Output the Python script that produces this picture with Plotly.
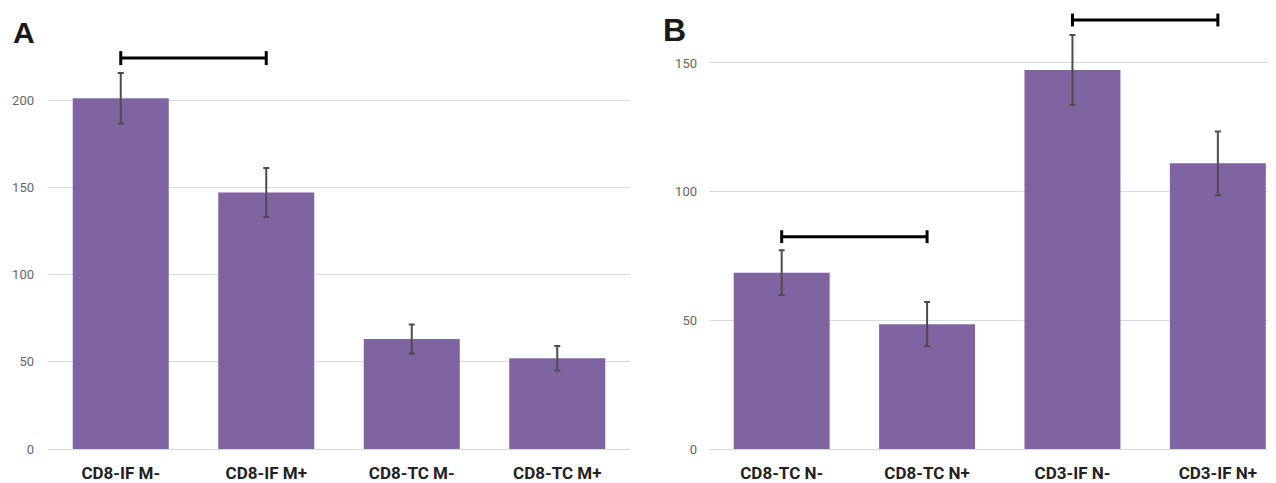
import plotly.graph_objects as go

# Panel A data
cats_a = ["CD8-IF M-", "CD8-IF M+", "CD8-TC M-", "CD8-TC M+"]
vals_a = [201, 147, 63, 52]
errs_a = [14.5, 14, 8.3, 7]

# Panel B data
cats_b = ["CD8-TC N-", "CD8-TC N+", "CD3-IF N-", "CD3-IF N+"]
vals_b = [68.5, 48.5, 147.3, 111]
errs_b = [8.7, 8.6, 13.6, 12.4]

# significance brackets: (from category, to category, y level)
brackets_a = [("CD8-IF M-", "CD8-IF M+", 224)]
brackets_b = [("CD8-TC N-", "CD8-TC N+", 82.5), ("CD3-IF N-", "CD3-IF N+", 166.7)]

yticks_a = [0, 50, 100, 150, 200]
yticks_b = [0, 50, 100, 150]

BAR = "#8064A2"
ERR = "#4d4d4d"
GRID = "#d9d9d9"

fig = go.Figure()

fig.add_trace(go.Bar(x=cats_a, y=vals_a, width=0.66, marker=dict(color=BAR, line=dict(width=0)),
                     error_y=dict(type="data", array=errs_a, color=ERR, thickness=2, width=3),
                     xaxis="x", yaxis="y", showlegend=False))
fig.add_trace(go.Bar(x=cats_b, y=vals_b, width=0.66, marker=dict(color=BAR, line=dict(width=0)),
                     error_y=dict(type="data", array=errs_b, color=ERR, thickness=2, width=3),
                     xaxis="x2", yaxis="y2", showlegend=False))


def bracket_trace(c1, c2, yv, cap, xa, ya):
    return go.Scatter(x=[c1, c1, None, c1, c2, None, c2, c2],
                      y=[yv - cap, yv + cap, None, yv, yv, None, yv - cap, yv + cap],
                      mode="lines", line=dict(color="black", width=3),
                      xaxis=xa, yaxis=ya, showlegend=False, hoverinfo="skip")


for c1, c2, yv in brackets_a:
    fig.add_trace(bracket_trace(c1, c2, yv, 4.0, "x", "y"))
for c1, c2, yv in brackets_b:
    fig.add_trace(bracket_trace(c1, c2, yv, 2.5, "x2", "y2"))

# page body has an 8px margin: offset all pixel positions by -8
OFF = 8
W, H = 1276, 483
T, B = 2, 42
PH = H - T - B


def px(x):
    return (x - OFF) / W


def py(y):
    return (H - B - (y - OFF)) / PH


tickfont = dict(family="Roboto", size=13, color="#666666")
xfont = dict(family="Roboto", size=17, color="#222222", weight="bold")

fig.update_layout(
    width=W, height=H,
    margin=dict(l=0, r=0, t=T, b=B),
    paper_bgcolor="white", plot_bgcolor="white",
    xaxis=dict(domain=[px(48), px(630)], type="category", categoryorder="array", categoryarray=cats_a,
               range=[-0.5, 3.5], showgrid=False, showline=False, ticks="", tickfont=xfont,
               ticklabelstandoff=12, fixedrange=True),
    yaxis=dict(domain=[0, 1], range=[0, PH / 87.25 * 50], tickvals=yticks_a, showgrid=True,
               gridcolor=GRID, gridwidth=1, zeroline=True, zerolinecolor=GRID, zerolinewidth=1,
               tickfont=tickfont, ticklabelstandoff=13, showline=False),
    xaxis2=dict(domain=[px(709), px(1276)], type="category", categoryorder="array", categoryarray=cats_b,
                range=[-0.5, 3.4], showgrid=False, showline=False, ticks="", tickfont=xfont,
                ticklabelstandoff=12, anchor="y2", fixedrange=True),
    yaxis2=dict(domain=[0, 1], range=[0, PH / 128.67 * 50], tickvals=yticks_b, showgrid=True,
                gridcolor=GRID, gridwidth=1, zeroline=True, zerolinecolor=GRID, zerolinewidth=1,
                tickfont=tickfont, ticklabelstandoff=11, anchor="x2", showline=False),
    annotations=[
        dict(text="<b>A</b>", x=px(24), y=py(33), xref="paper", yref="paper",
             xanchor="center", yanchor="middle", showarrow=False,
             font=dict(family="Liberation Sans", size=30, color="#1a1a1a")),
        dict(text="<b>B</b>", x=px(674), y=py(30), xref="paper", yref="paper",
             xanchor="center", yanchor="middle", showarrow=False,
             font=dict(family="Liberation Sans", size=32, color="#1a1a1a")),
    ],
)

fig.write_html("out.html")
